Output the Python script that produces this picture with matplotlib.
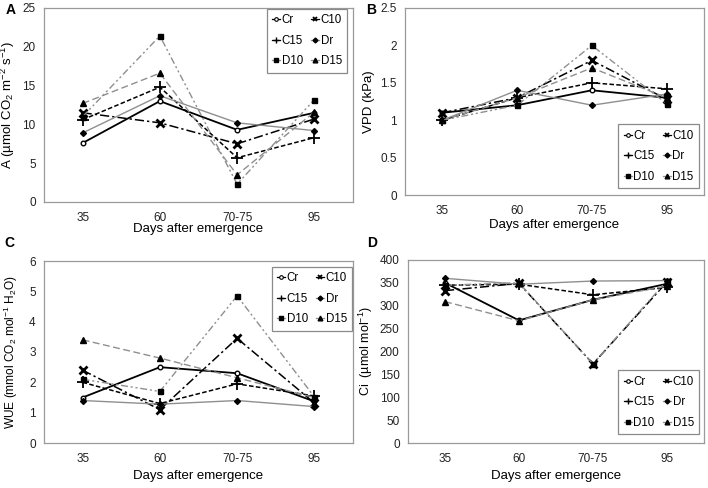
import matplotlib
matplotlib.use('Agg')
import matplotlib.pyplot as plt
from matplotlib.lines import Line2D

plt.rcParams['font.family'] = ['Liberation Sans', 'DejaVu Sans']
plt.rcParams['mathtext.fontset'] = 'custom'
plt.rcParams['mathtext.rm'] = 'Liberation Sans'
plt.rcParams['mathtext.it'] = 'Liberation Sans:italic'

days = ['35', '60', '70-75', '95']
series = ['Cr', 'C10', 'C15', 'Dr', 'D10', 'D15']

# photosynthesis A
a_vals = {
    'Cr':  [7.6, 13.0, 9.3, 11.5],
    'C10': [11.5, 10.2, 7.5, 10.7],
    'C15': [10.6, 14.8, 5.7, 8.3],
    'Dr':  [8.9, 13.7, 10.2, 9.2],
    'D10': [11.0, 21.4, 2.3, 13.2],
    'D15': [12.7, 16.6, 3.5, 11.6],
}
# VPD
b_vals = {
    'Cr':  [1.1, 1.2, 1.4, 1.3],
    'C10': [1.1, 1.3, 1.8, 1.28],
    'C15': [1.0, 1.3, 1.5, 1.42],
    'Dr':  [1.0, 1.4, 1.2, 1.35],
    'D10': [1.0, 1.2, 2.0, 1.22],
    'D15': [1.0, 1.3, 1.7, 1.3],
}
# WUE
c_vals = {
    'Cr':  [1.5, 2.5, 2.3, 1.37],
    'C10': [2.4, 1.1, 3.45, 1.32],
    'C15': [2.0, 1.3, 1.95, 1.55],
    'Dr':  [1.4, 1.28, 1.4, 1.2],
    'D10': [2.1, 1.7, 4.85, 1.52],
    'D15': [3.4, 2.8, 2.15, 1.5],
}
# Ci
d_vals = {
    'Cr':  [350, 268, 313, 348],
    'C10': [333, 349, 173, 352],
    'C15': [345, 347, 324, 340],
    'Dr':  [360, 347, 354, 355],
    'D10': [345, 350, 173, 355],
    'D15': [309, 267, 313, 343],
}

gray = '#8f8f8f'
styles = {
    'Cr':  dict(color='black', ls='-', lw=1.3, marker='o', ms=3.3, mfc='white', mec='black'),
    'C10': dict(color='black', ls=(0, (6, 2, 1.5, 2)), lw=1.1, marker='x', ms=5.5, mew=2, mec='black'),
    'C15': dict(color='black', ls=(0, (3, 1.5)), lw=1.1, marker='+', ms=9, mew=1.3, mec='black'),
    'Dr':  dict(color=gray, ls='-', lw=1.0, marker='D', ms=3.0, mfc='black', mec='black'),
    'D10': dict(color=gray, ls=(0, (5, 2, 1.5, 2, 1.5, 2)), lw=1.0, marker='s', ms=3.6, mfc='black', mec='black'),
    'D15': dict(color=gray, ls=(0, (5, 2.5)), lw=1.0, marker='^', ms=5, mfc='black', mec='black'),
}
# smaller markers in the legend keys
leg_ms = {'Cr': 2.6, 'C10': 3.2, 'C15': 5, 'Dr': 2.5, 'D10': 2.7, 'D15': 3.4}
leg_mew = {'Cr': 0.8, 'C10': 1.3, 'C15': 1.0, 'Dr': 1, 'D10': 1, 'D15': 1}
# legend is filled row by row in the original: Cr C10 / C15 Dr / D10 D15
legend_order = ['Cr', 'C15', 'D10', 'C10', 'Dr', 'D15']

W, H = 708, 488
fig = plt.figure(figsize=(W / 100, H / 100), dpi=100)


def px_axes(l, t, r, b):
    return fig.add_axes([l / W, (H - b) / H, (r - l) / W, (b - t) / H])


panels = [
    ('A', px_axes(44, 8, 353, 202), a_vals, 'A (µmol CO$_\\mathregular{2}$ m$^\\mathregular{-2}$ s$^\\mathregular{-1}$)', 9.5,
     (0, 25), [0, 5, 10, 15, 20, 25], ['0', '5', '10', '15', '20', '25'],
     'upper right', (0.981, 0.995), -0.088, -0.11, (6, 10)),
    ('B', px_axes(405, 8, 704, 195), b_vals, 'VPD (kPa)', 9.5,
     (0, 2.5), [0, 0.5, 1, 1.5, 2, 2.5], ['0', '0.5', '1', '1.5', '2', '2.5'],
     'lower right', (0.983, 0.037), -0.10, -0.13, (366, 10)),
    ('C', px_axes(44, 261, 353, 443), c_vals, 'WUE (mmol CO$_\\mathregular{2}$ mol$^\\mathregular{-1}$ H$_\\mathregular{2}$O)', 8.6,
     (0, 6), [0, 1, 2, 3, 4, 5, 6], ['0', '1', '2', '3', '4', '5', '6'],
     'upper right', (0.997, 0.967), -0.078, -0.15, (4, 243)),
    ('D', px_axes(408, 260, 704, 443), d_vals, 'Ci  (µmol mol$^\\mathregular{-1}$)', 9,
     (0, 400), list(range(0, 401, 50)), [str(v) for v in range(0, 401, 50)],
     'lower right', (0.983, 0.049), -0.111, -0.15, (367, 243)),
]

for letter, ax, vals, ylab, yfs, ylim, yt, ytl, lloc, lanchor, ylx, xly, lpos in panels:
    x = list(range(len(days)))
    for s in series:
        ax.plot(x, vals[s], label=s, **styles[s])
    ax.set_xlim(-0.5, 3.5)
    ax.set_ylim(*ylim)
    ax.set_xticks(x)
    ax.set_xticklabels(days)
    ax.set_yticks(yt)
    ax.set_yticklabels(ytl)
    ax.tick_params(length=0, labelsize=8.5, colors='#222222')
    ax.tick_params(axis='x', pad=7)
    ax.tick_params(axis='y', pad=6)
    for sp in ax.spines.values():
        sp.set_color('#9a9a9a')
        sp.set_linewidth(0.9)
    ax.set_ylabel(ylab, fontsize=yfs)
    ax.yaxis.set_label_coords(ylx, 0.5)
    ax.set_xlabel('Days after emergence', fontsize=9.5)
    ax.xaxis.set_label_coords(0.5, xly)

    handles = []
    for s in legend_order:
        st = dict(styles[s])
        st['ls'] = '-'
        st['lw'] = 0.9
        st['ms'] = leg_ms[s]
        st['mew'] = leg_mew[s]
        handles.append(Line2D([], [], **st))
    leg = ax.legend(handles, legend_order, ncol=2,
                    loc=lloc, bbox_to_anchor=lanchor, borderaxespad=0,
                    fontsize=8.3, handlelength=0.7, handletextpad=0.15,
                    columnspacing=0.7, labelspacing=0.75, fancybox=False,
                    edgecolor='#8a8a8a', framealpha=1, borderpad=0.45)
    leg.get_frame().set_linewidth(0.9)
    fig.text(lpos[0] / W, 1 - lpos[1] / H, letter, fontsize=10, fontweight='bold',
             ha='left', va='center')

fig.savefig('out.png', dpi=100)
